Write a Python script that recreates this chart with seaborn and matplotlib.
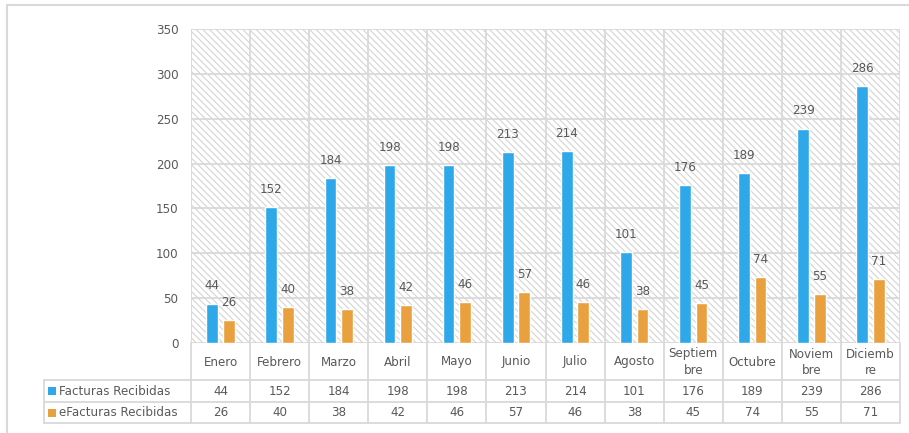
import matplotlib
matplotlib.use("Agg")
import matplotlib.pyplot as plt
from matplotlib.patches import Rectangle
import pandas as pd
import seaborn as sns

meses = ["Enero", "Febrero", "Marzo", "Abril", "Mayo", "Junio", "Julio",
         "Agosto", "Septiem\nbre", "Octubre", "Noviem\nbre", "Diciemb\nre"]
facturas = [44, 152, 184, 198, 198, 213, 214, 101, 176, 189, 239, 286]
efacturas = [26, 40, 38, 42, 46, 57, 46, 38, 45, 74, 55, 71]
series = ["Facturas Recibidas", "eFacturas Recibidas"]
colores = ["#2EA8E8", "#E9A03E"]
yticks = [0, 50, 100, 150, 200, 250, 300, 350]

TEXT = "#595959"
GRID = "#D9D9D9"
FS = 8.6

sns.set_theme(style="white")
plt.rcParams["font.family"] = ["DejaVu Sans"]
plt.rcParams["hatch.linewidth"] = 0.8

df = pd.DataFrame({
    "mes": meses * 2,
    "valor": facturas + efacturas,
    "serie": [series[0]] * len(meses) + [series[1]] * len(meses),
})

W, H = 909, 433
fig = plt.figure(figsize=(W / 100, H / 100), dpi=100)


def fx(px):
    return px / W


def fy(py):
    return 1 - py / H


# outer chart frame
fig.patches.append(Rectangle((fx(7), -0.1), 1.2, fy(5) + 0.1, transform=fig.transFigure,
                             fill=False, edgecolor=GRID, lw=1.5))

L, R, T, B = 191, 900, 29, 343
ax = fig.add_axes([fx(L), fy(B), fx(R) - fx(L), fy(T) - fy(B)])

# hatched plot background
ax.add_patch(Rectangle((0, 0), 1, 1, transform=ax.transAxes, facecolor="white",
                       edgecolor="#D4D4D4", hatch="\\\\\\\\\\", lw=0, zorder=0))

sns.barplot(data=df, x="mes", y="valor", hue="serie", hue_order=series,
            palette=colores, saturation=1, width=0.56, gap=0.29,
            legend=False, ax=ax, zorder=3)

for cont in ax.containers:
    ax.bar_label(cont, padding=8, fontsize=FS, color=TEXT)

ax.set_xlim(-0.5, len(meses) - 0.5)
ax.set_ylim(0, 350)
ax.set_yticks(yticks)
ax.set_yticklabels([str(v) for v in yticks], fontsize=FS, color=TEXT)
ax.set_xticks([])
ax.set_xlabel("")
ax.set_ylabel("")
ax.tick_params(axis="y", length=0, pad=9)
for v in yticks:
    ax.axhline(v, color=GRID, lw=1.3, zorder=1)
for i in range(len(meses) + 1):
    ax.axvline(i - 0.5, color=GRID, lw=1.3, zorder=1)
for s in ax.spines.values():
    s.set_visible(False)

# data table under the chart
TL, TB = 44, 423
unit = len(meses) / (R - L)
x_left = -0.5 - (L - TL) * unit
tax = fig.add_axes([fx(TL), fy(TB), fx(R) - fx(TL), fy(B) - fy(TB)])
tax.set_xlim(x_left, len(meses) - 0.5)
tax.set_ylim(TB, B)
tax.axis("off")

row1, row2 = 380, 402
for i in range(len(meses) + 1):
    tax.plot([i - 0.5, i - 0.5], [B, TB], color=GRID, lw=1.3, clip_on=False)
tax.plot([x_left, x_left], [row1, TB], color=GRID, lw=1.3, clip_on=False)
for yy in (row1, row2, TB):
    tax.plot([x_left, len(meses) - 0.5], [yy, yy], color=GRID, lw=1.3, clip_on=False)

for i, m in enumerate(meses):
    tax.text(i, (B + row1) / 2 + 0.5, m, ha="center", va="center", fontsize=FS,
             color=TEXT, linespacing=1.3)
    tax.text(i, (row1 + row2) / 2 + 0.5, str(facturas[i]), ha="center", va="center",
             fontsize=FS, color=TEXT)
    tax.text(i, (row2 + TB) / 2 + 0.5, str(efacturas[i]), ha="center", va="center",
             fontsize=FS, color=TEXT)

for (y0, y1), nombre, col in zip([(row1, row2), (row2, TB)], series, colores):
    yc = (y0 + y1) / 2
    tax.add_patch(Rectangle((x_left + 4 * unit, yc - 4), 8 * unit, 8,
                            facecolor=col, edgecolor="none", clip_on=False))
    tax.text(x_left + 15 * unit, yc + 0.5, nombre, ha="left", va="center",
             fontsize=FS, color=TEXT)

fig.savefig("out.png", dpi=100)
